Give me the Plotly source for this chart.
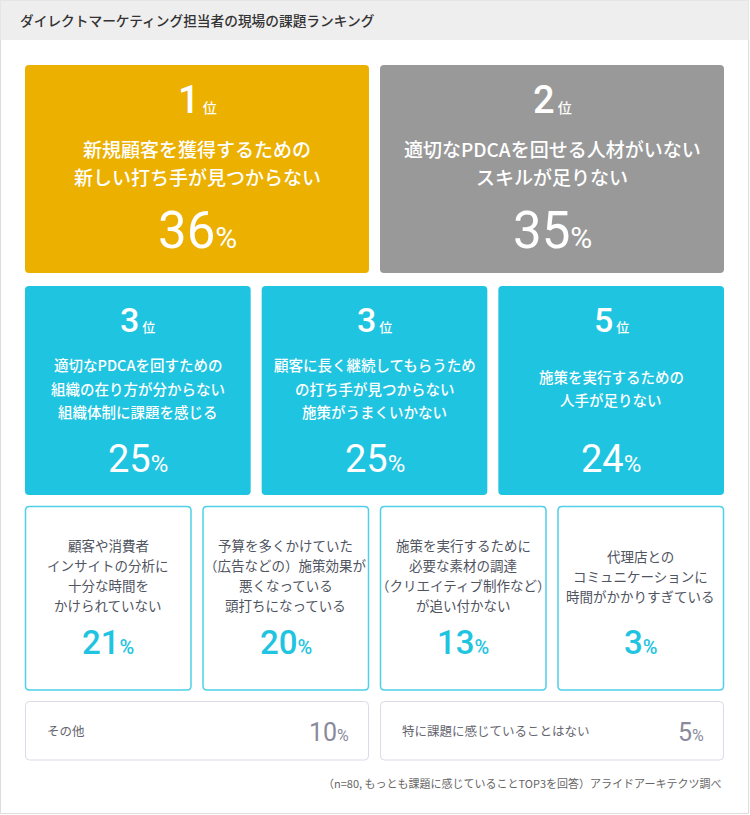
import plotly.graph_objects as go

# データ
title_text = "ダイレクトマーケティング担当者の現場の課題ランキング"

ranks_top = [1, 2, 3, 3, 5]
labels_top = [
    ["新規顧客を獲得するための", "新しい打ち手が見つからない"],
    ["適切なPDCAを回せる人材がいない", "スキルが足りない"],
    ["適切なPDCAを回すための", "組織の在り方が分からない", "組織体制に課題を感じる"],
    ["顧客に長く継続してもらうため", "の打ち手が見つからない", "施策がうまくいかない"],
    ["施策を実行するための", "人手が足りない"],
]
pct_top = [36, 35, 25, 25, 24]

labels_mid = [
    ["顧客や消費者", "インサイトの分析に", "十分な時間を", "かけられていない"],
    ["予算を多くかけていた", "（広告などの）施策効果が", "悪くなっている", "頭打ちになっている"],
    ["施策を実行するために", "必要な素材の調達", "（クリエイティブ制作など）", "が追い付かない"],
    ["代理店との", "コミュニケーションに", "時間がかかりすぎている"],
]
pct_mid = [21, 20, 13, 3]

labels_low = ["その他", "特に課題に感じていることはない"]
pct_low = [10, 5]

note_text = "（n=80, もっとも課題に感じていることTOP3を回答）アライドアーキテクツ調べ"

FONT = "Noto Sans CJK JP"
NUM = "Roboto"
GOLD = "#ebb000"
GRAY = "#999999"
CYAN = "#1fc4e0"


def rrect(x0, y0, x1, y1, r=4):
    return (f"M{x0+r},{y0} L{x1-r},{y0} Q{x1},{y0} {x1},{y0+r} "
            f"L{x1},{y1-r} Q{x1},{y1} {x1-r},{y1} L{x0+r},{y1} "
            f"Q{x0},{y1} {x0},{y1-r} L{x0},{y0+r} Q{x0},{y0} {x0+r},{y0} Z")


shapes = []
ann = []


def text(x, y, s, size, color, weight=400, anchor="center", family=FONT):
    ann.append(dict(x=x, y=y, xref="x", yref="y", text=s, showarrow=False,
                    xanchor=anchor, yanchor="middle",
                    font=dict(family=family, size=size, color=color, weight=weight)))


def pct(v, small):
    return f'{v}<span style="font-size:{small}px">%</span>'


def rank(v, small):
    return f'{v}<span style="font-size:{small}px;font-family:{FONT}"> 位</span>'


# 外枠とヘッダー
shapes.append(dict(type="rect", x0=0.5, y0=0.5, x1=748.5, y1=813.5,
                   line=dict(color="#dddddd", width=1), fillcolor="white", layer="below"))
shapes.append(dict(type="rect", x0=0.5, y0=0.5, x1=748.5, y1=40,
                   line=dict(width=0), fillcolor="#eeeeee", layer="below"))
text(18, 20, title_text, 13.7, "#333333", 500, "left")

# 1位・2位
left, right, gap = 25, 724, 11
w2 = (right - left - gap) / 2
for i in range(2):
    x0 = left + i * (w2 + gap)
    x1 = x0 + w2
    cx = (x0 + x1) / 2
    shapes.append(dict(type="path", path=rrect(x0, 65, x1, 273), line=dict(width=0),
                       fillcolor=[GOLD, GRAY][i], layer="below"))
    text(cx, 100, rank(ranks_top[i], 14), 38, "white", 500, family=NUM)
    for j, line in enumerate(labels_top[i]):
        text(cx, 148 + j * 28.5, line, 19, "white", 500)
    text(cx, 230, pct(pct_top[i], 30), 51, "white", 400, family=NUM)

# 3位〜5位
w3 = (right - left - 2 * gap) / 3
for k in range(3):
    i = k + 2
    x0 = left + k * (w3 + gap)
    x1 = x0 + w3
    cx = (x0 + x1) / 2
    shapes.append(dict(type="path", path=rrect(x0, 286, x1, 495), line=dict(width=0),
                       fillcolor=CYAN, layer="below"))
    text(cx, 320, rank(ranks_top[i], 13), 34, "white", 500, family=NUM)
    n = len(labels_top[i])
    start = 388 - (n - 1) * 23.5 / 2
    for j, line in enumerate(labels_top[i]):
        text(cx, start + j * 23.5, line, 14.5, "white", 500)
    text(cx, 459, pct(pct_top[i], 24), 38, "white", 400, family=NUM)

# 6位〜9位
w4 = (right - left - 3 * gap) / 4
for k in range(4):
    x0 = left + k * (w4 + gap)
    x1 = x0 + w4
    cx = (x0 + x1) / 2
    shapes.append(dict(type="path", path=rrect(x0 + 0.5, 506.5, x1 - 0.5, 690),
                       line=dict(color="#4fd0e8", width=1.5), fillcolor="white", layer="below"))
    n = len(labels_mid[k])
    start = 575 - (n - 1) * 20 / 2 if n == 4 else 556
    for j, line in enumerate(labels_mid[k]):
        text(cx, start + j * 20, line, 13.5, "#50545f", 400)
    text(cx, 642, pct(pct_mid[k], 20), 33, CYAN, 500, family=NUM)

# その他
for k in range(2):
    x0 = left + k * (w2 + gap)
    x1 = x0 + w2
    shapes.append(dict(type="path", path=rrect(x0 + 0.5, 701.5, x1 - 0.5, 760),
                       line=dict(color="#dcdae6", width=1), fillcolor="white", layer="below"))
    text(x0 + 20, 730, labels_low[k], 12.5, "#666670", 400, "left")
    text(x1 - 18, 732, pct(pct_low[k], 16), 25, "#8a8a9c", 400, "right", family=NUM)

text(723, 783, note_text, 11, "#666666", 400, "right")

fig = go.Figure()
fig.update_layout(
    width=750, height=815,
    margin=dict(l=0, r=0, t=0, b=0),
    paper_bgcolor="white", plot_bgcolor="white",
    xaxis=dict(range=[0, 750], visible=False, fixedrange=True),
    yaxis=dict(range=[815, 0], visible=False, fixedrange=True),
    shapes=shapes, annotations=ann, showlegend=False,
)
fig.write_html("out.html", config={"displayModeBar": False},
               post_script="document.body.style.margin='0';document.body.style.overflow='hidden';")
